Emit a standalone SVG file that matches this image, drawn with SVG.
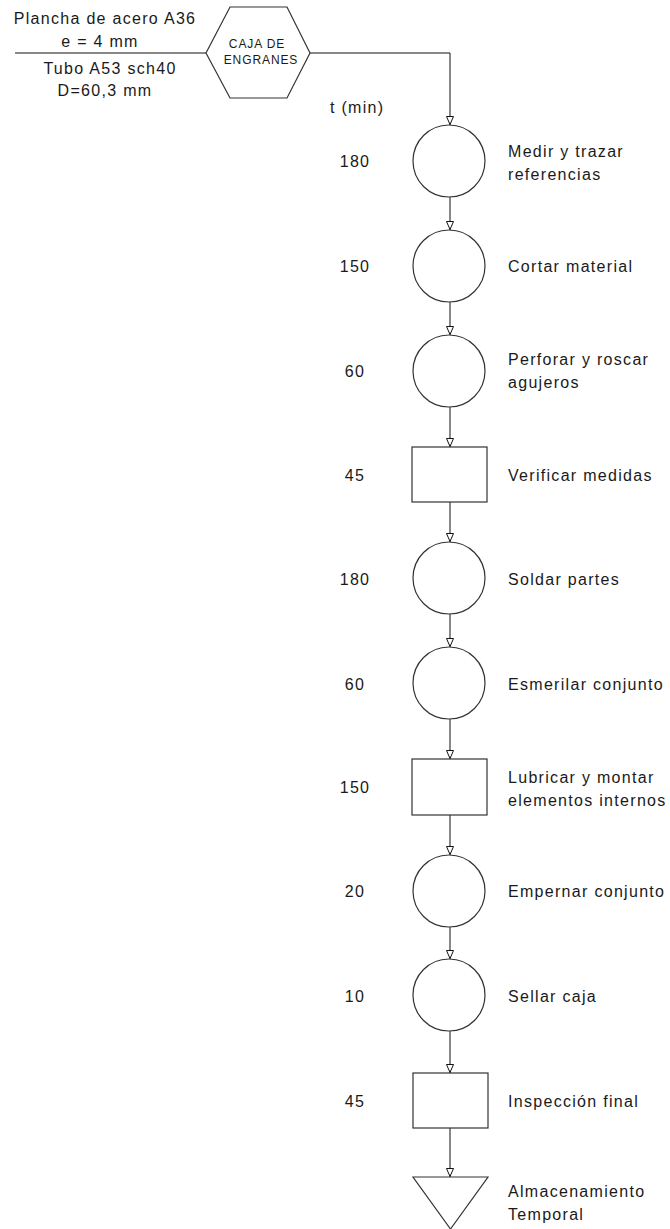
<svg xmlns="http://www.w3.org/2000/svg" width="670" height="1229" viewBox="0 0 670 1229">
<style>
.t{font-family:"Liberation Sans",Arial,sans-serif;font-size:16px;letter-spacing:1.3px;fill:#1a1a1a}
.s{font-family:"Liberation Sans",Arial,sans-serif;font-size:12px;letter-spacing:0.9px;fill:#1a1a1a}
.m{text-anchor:middle}
.n{fill:#fff;stroke:#333;stroke-width:1.2}
.c{fill:none;stroke:#111;stroke-width:1}
</style>
<defs>
<marker id="a" viewBox="0 0 9 8" refX="9" refY="4" markerWidth="9" markerHeight="8" markerUnits="userSpaceOnUse" orient="auto">
<path d="M0.5,0.5 L8.5,4 L0.5,7.5 Z" fill="#fff" stroke="#111" stroke-width="1"/>
</marker>
</defs>
<rect width="670" height="1229" fill="#fff"/>
<g id="connectors">
<line class="c" x1="15" y1="53" x2="206" y2="53"/>
<path class="c" d="M310,53 H450 V125" marker-end="url(#a)"/>
<line class="c" x1="450" y1="197" x2="450" y2="230" marker-end="url(#a)"/>
<line class="c" x1="450" y1="302" x2="450" y2="335" marker-end="url(#a)"/>
<line class="c" x1="450" y1="407" x2="450" y2="447" marker-end="url(#a)"/>
<line class="c" x1="450" y1="502" x2="450" y2="542" marker-end="url(#a)"/>
<line class="c" x1="450" y1="614" x2="450" y2="647" marker-end="url(#a)"/>
<line class="c" x1="450" y1="719" x2="450" y2="759" marker-end="url(#a)"/>
<line class="c" x1="450" y1="815" x2="450" y2="855" marker-end="url(#a)"/>
<line class="c" x1="450" y1="927" x2="450" y2="959" marker-end="url(#a)"/>
<line class="c" x1="450" y1="1031" x2="450" y2="1073" marker-end="url(#a)"/>
<line class="c" x1="450" y1="1128" x2="450" y2="1177" marker-end="url(#a)"/>
</g>
<g id="inputs">
<text class="t m" x="105" y="24">Plancha de acero A36</text>
<text class="t m" x="100" y="47">e = 4 mm</text>
<text class="t m" x="110" y="74">Tubo A53 sch40</text>
<text class="t m" x="105" y="96">D=60,3 mm</text>
</g>
<g id="product">
<polygon class="n" points="206,53 230,7 287,7 310,53 287,98 230,98"/>
<text class="s m" x="257" y="48">CAJA DE</text>
<text class="s m" x="261" y="64">ENGRANES</text>
</g>
<text class="t" x="330" y="113">t (min)</text>
<g id="n1"><circle class="n" cx="449" cy="161" r="36"/><text class="t m" x="355" y="167">180</text><text class="t" x="508" y="157">Medir y trazar</text><text class="t" x="508" y="180">referencias</text></g>
<g id="n2"><circle class="n" cx="449" cy="266" r="36"/><text class="t m" x="355" y="272">150</text><text class="t" x="508" y="272">Cortar material</text></g>
<g id="n3"><circle class="n" cx="449" cy="371" r="36"/><text class="t m" x="355" y="377">60</text><text class="t" x="508" y="365">Perforar y roscar</text><text class="t" x="508" y="388">agujeros</text></g>
<g id="n4"><rect class="n" x="412" y="447" width="75" height="55"/><text class="t m" x="355" y="481">45</text><text class="t" x="508" y="481">Verificar medidas</text></g>
<g id="n5"><circle class="n" cx="449" cy="578" r="36"/><text class="t m" x="355" y="585">180</text><text class="t" x="508" y="585">Soldar partes</text></g>
<g id="n6"><circle class="n" cx="449" cy="683" r="36"/><text class="t m" x="355" y="690">60</text><text class="t" x="508" y="690">Esmerilar conjunto</text></g>
<g id="n7"><rect class="n" x="412" y="759" width="75" height="56"/><text class="t m" x="355" y="793">150</text><text class="t" x="508" y="783">Lubricar y montar</text><text class="t" x="508" y="806">elementos internos</text></g>
<g id="n8"><circle class="n" cx="449" cy="891" r="36"/><text class="t m" x="355" y="897">20</text><text class="t" x="508" y="897">Empernar conjunto</text></g>
<g id="n9"><circle class="n" cx="449" cy="995" r="36"/><text class="t m" x="355" y="1002">10</text><text class="t" x="508" y="1002">Sellar caja</text></g>
<g id="n10"><rect class="n" x="413" y="1073" width="75" height="55"/><text class="t m" x="355" y="1107">45</text><text class="t" x="508" y="1107">Inspección final</text></g>
<g id="n11"><polygon class="n" points="413,1177 488,1177 450.5,1229"/><text class="t" x="508" y="1197">Almacenamiento</text><text class="t" x="508" y="1220">Temporal</text></g>
</svg>
